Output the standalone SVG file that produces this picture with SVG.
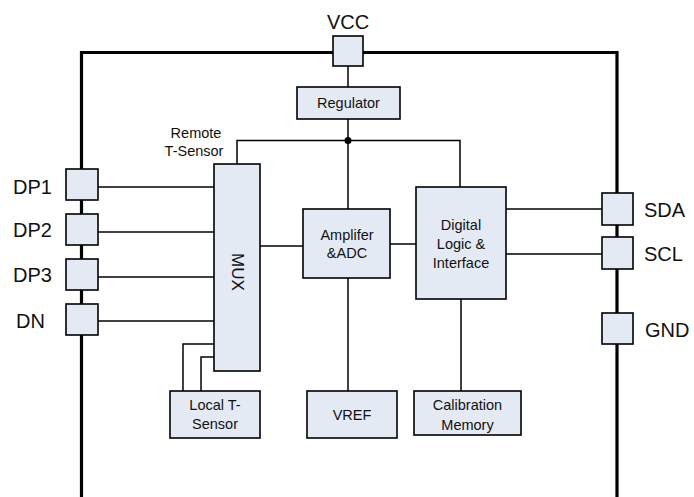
<svg xmlns="http://www.w3.org/2000/svg" width="694" height="497" viewBox="0 0 694 497">
  <style>
    .blk { fill: #E4EAF4; stroke: #000; stroke-width: 1.6; }
    .pin { fill: #E4EAF4; stroke: #000; stroke-width: 1.6; }
    .wire { fill: none; stroke: #000; stroke-width: 1.5; }
    .rail { fill: none; stroke: #000; stroke-width: 3.2; }
    text { font-family: "Liberation Sans", Arial, sans-serif; fill: #111; }
    .lbl { font-size: 14.5px; text-anchor: middle; }
    .pinlbl { font-size: 20px; }
  </style>

  <!-- package outline and internal wiring -->
  <g id="connectors">
    <polyline class="rail" points="81.5,497 81.5,52.5 333,52.5"/>
    <polyline class="rail" points="363,52.5 617,52.5 617,497"/>
    <line class="wire" x1="348" y1="66" x2="348" y2="87"/>
    <line class="wire" x1="348" y1="119" x2="348" y2="209"/>
    <polyline class="wire" points="237,164 237,140.5 460,140.5 460,187"/>
    <circle cx="348" cy="140.5" r="3.5" fill="#000"/>
    <line class="wire" x1="98" y1="187" x2="214" y2="187"/>
    <line class="wire" x1="98" y1="232" x2="214" y2="232"/>
    <line class="wire" x1="98" y1="277" x2="214" y2="277"/>
    <line class="wire" x1="98" y1="321" x2="214" y2="321"/>
    <polyline class="wire" points="183,391 183,344 214,344"/>
    <polyline class="wire" points="201,391 201,357 214,357"/>
    <line class="wire" x1="260" y1="246" x2="303" y2="246"/>
    <line class="wire" x1="390" y1="244" x2="416" y2="244"/>
    <line class="wire" x1="348" y1="278" x2="348" y2="391"/>
    <line class="wire" x1="461" y1="299" x2="461" y2="391"/>
    <line class="wire" x1="506" y1="209" x2="602" y2="209"/>
    <line class="wire" x1="506" y1="254" x2="602" y2="254"/>
  </g>

  <!-- pins -->
  <g id="pin-vcc">
    <rect class="pin" x="333" y="36" width="30" height="30"/>
    <text class="pinlbl" x="348" y="29" text-anchor="middle">VCC</text>
  </g>
  <g id="pin-dp1">
    <rect class="pin" x="66" y="169" width="32" height="31"/>
    <text class="pinlbl" x="13" y="193.5">DP1</text>
  </g>
  <g id="pin-dp2">
    <rect class="pin" x="66" y="214" width="32" height="31"/>
    <text class="pinlbl" x="13" y="237">DP2</text>
  </g>
  <g id="pin-dp3">
    <rect class="pin" x="66" y="259" width="32" height="31"/>
    <text class="pinlbl" x="13" y="282">DP3</text>
  </g>
  <g id="pin-dn">
    <rect class="pin" x="66" y="304" width="32" height="31"/>
    <text class="pinlbl" x="16" y="328">DN</text>
  </g>
  <g id="pin-sda">
    <rect class="pin" x="602" y="193" width="31" height="32"/>
    <text class="pinlbl" x="644" y="217">SDA</text>
  </g>
  <g id="pin-scl">
    <rect class="pin" x="602" y="237" width="31" height="32"/>
    <text class="pinlbl" x="644" y="261">SCL</text>
  </g>
  <g id="pin-gnd">
    <rect class="pin" x="602" y="313" width="31" height="31"/>
    <text class="pinlbl" x="645" y="337">GND</text>
  </g>

  <!-- functional blocks -->
  <g id="regulator">
    <rect class="blk" x="297" y="87" width="103" height="32"/>
    <text class="lbl" x="348.5" y="108">Regulator</text>
  </g>
  <g id="remote-label">
    <text class="lbl" x="196" y="138">Remote</text>
    <text class="lbl" x="194" y="156">T-Sensor</text>
  </g>
  <g id="mux">
    <rect class="blk" x="214" y="164" width="46" height="207"/>
    <text font-size="17" text-anchor="middle" dominant-baseline="central" transform="translate(237,272) rotate(90)">MUX</text>
  </g>
  <g id="amp-adc">
    <rect class="blk" x="303" y="209" width="87" height="69"/>
    <text class="lbl" x="347" y="240">Amplifer</text>
    <text class="lbl" x="347" y="258">&amp;ADC</text>
  </g>
  <g id="digital">
    <rect class="blk" x="416" y="187" width="90" height="112"/>
    <text class="lbl" x="461" y="230">Digital</text>
    <text class="lbl" x="461" y="248.5">Logic &amp;</text>
    <text class="lbl" x="461" y="267.5">Interface</text>
  </g>
  <g id="local-sensor">
    <rect class="blk" x="170" y="391" width="90" height="47"/>
    <text class="lbl" x="215" y="410">Local T-</text>
    <text class="lbl" x="215" y="429">Sensor</text>
  </g>
  <g id="vref">
    <rect class="blk" x="307" y="391" width="90" height="47"/>
    <text class="lbl" x="352" y="420">VREF</text>
  </g>
  <g id="cal-memory">
    <rect class="blk" x="414" y="391" width="107" height="44"/>
    <text class="lbl" x="467.5" y="410">Calibration</text>
    <text class="lbl" x="467.5" y="430">Memory</text>
  </g>
</svg>
